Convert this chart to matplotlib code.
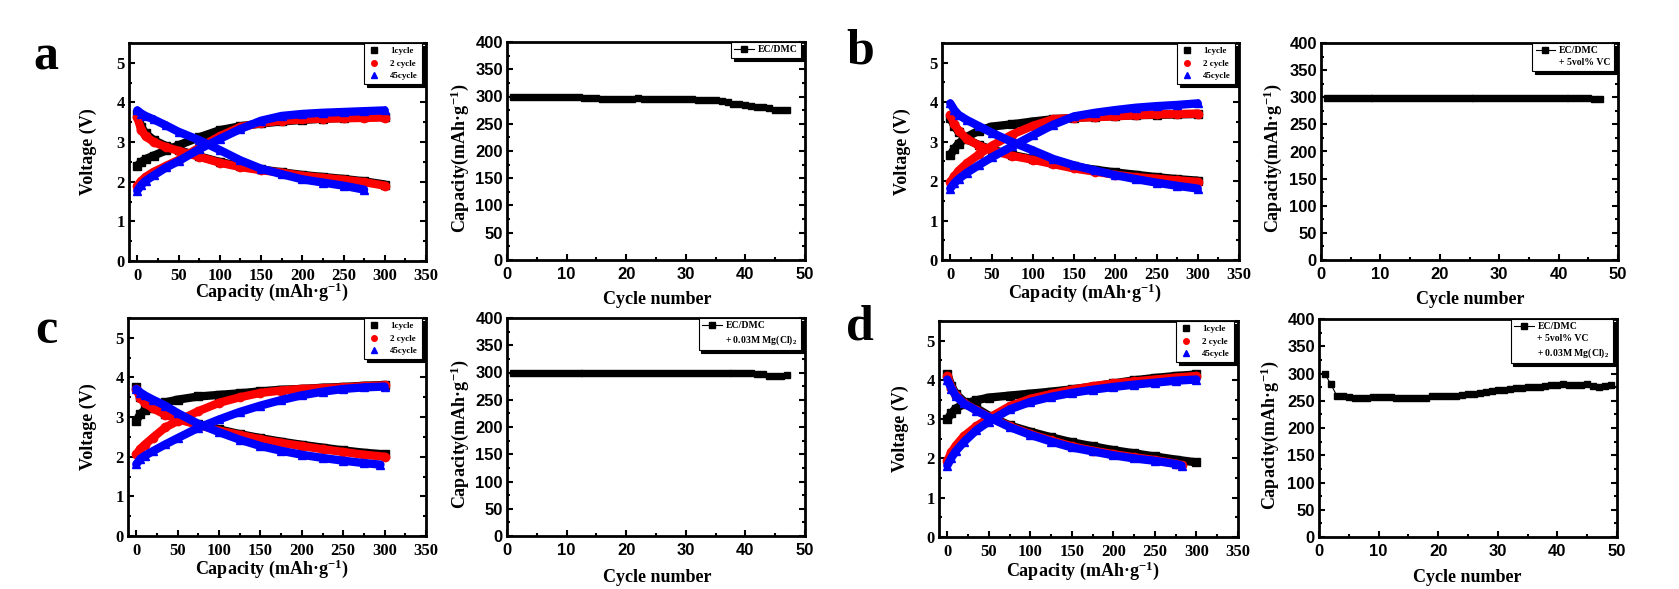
import matplotlib
matplotlib.use("Agg")
import matplotlib.pyplot as plt
from matplotlib.lines import Line2D
from matplotlib.ticker import MultipleLocator

plt.rcParams['font.family'] = 'Liberation Serif'
plt.rcParams['font.weight'] = 'bold'
plt.rcParams['mathtext.fontset'] = 'custom'
plt.rcParams['mathtext.rm'] = 'Liberation Serif:bold'
plt.rcParams['mathtext.it'] = 'Liberation Serif:bold'
plt.rcParams['mathtext.bf'] = 'Liberation Serif:bold'
plt.rcParams['axes.linewidth'] = 2

# ---- voltage profiles: capacity grid (mAh/g) and voltages (V)
q = [0, 5, 10, 20, 35, 50, 75, 100, 125, 150, 175, 200, 225, 250, 275, 300]
q_275 = [0, 5, 10, 20, 35, 50, 75, 100, 125, 150, 175, 200, 225, 250, 275]
q_282 = [0, 5, 10, 20, 35, 50, 75, 100, 125, 150, 175, 200, 225, 250, 275, 282]
q_295 = [0, 5, 10, 20, 35, 50, 75, 100, 125, 150, 175, 200, 225, 250, 275, 295]

# panel a : EC/DMC
a_c1_chg = [2.40, 2.50, 2.57, 2.66, 2.79, 2.92, 3.12, 3.30, 3.40, 3.47, 3.52, 3.56, 3.59, 3.61, 3.63, 3.64]
a_c1_dis = [3.70, 3.38, 3.22, 3.05, 2.90, 2.80, 2.64, 2.50, 2.39, 2.31, 2.24, 2.17, 2.12, 2.07, 2.01, 1.93]
a_c2_chg = [1.90, 2.02, 2.12, 2.25, 2.40, 2.55, 2.86, 3.15, 3.38, 3.48, 3.54, 3.57, 3.59, 3.60, 3.61, 3.62]
a_c2_dis = [3.63, 3.30, 3.15, 3.00, 2.87, 2.78, 2.63, 2.48, 2.37, 2.29, 2.23, 2.15, 2.10, 2.05, 1.99, 1.90]
a_c45_chg = [1.77, 1.92, 2.02, 2.16, 2.36, 2.52, 2.82, 3.08, 3.33, 3.54, 3.66, 3.71, 3.74, 3.76, 3.78, 3.80]
a_c45_dis = [3.80, 3.72, 3.66, 3.57, 3.42, 3.26, 3.05, 2.80, 2.54, 2.33, 2.19, 2.06, 1.98, 1.90, 1.80]

# panel b : EC/DMC + 5vol% VC
b_c1_chg = [2.66, 2.82, 2.95, 3.12, 3.28, 3.38, 3.44, 3.51, 3.57, 3.60, 3.63, 3.65, 3.67, 3.68, 3.69, 3.70]
b_c1_dis = [3.60, 3.40, 3.25, 3.06, 2.91, 2.80, 2.66, 2.56, 2.46, 2.37, 2.29, 2.22, 2.16, 2.10, 2.05, 2.01]
b_c2_chg = [1.98, 2.12, 2.26, 2.45, 2.68, 2.89, 3.18, 3.40, 3.57, 3.60, 3.62, 3.64, 3.67, 3.69, 3.70, 3.71]
b_c2_dis = [3.68, 3.45, 3.28, 3.07, 2.90, 2.78, 2.64, 2.54, 2.43, 2.32, 2.24, 2.16, 2.10, 2.06, 2.02, 1.98]
b_c45_chg = [1.81, 1.95, 2.05, 2.21, 2.41, 2.60, 2.88, 3.16, 3.43, 3.64, 3.73, 3.80, 3.86, 3.90, 3.93, 3.97]
b_c45_dis = [3.97, 3.80, 3.68, 3.55, 3.39, 3.23, 2.99, 2.78, 2.56, 2.40, 2.27, 2.15, 2.05, 1.96, 1.88, 1.81]

# panel c : EC/DMC + 0.03M Mg(Cl)2
c_c1_chg = [2.91, 3.08, 3.17, 3.28, 3.37, 3.44, 3.52, 3.56, 3.60, 3.65, 3.69, 3.71, 3.74, 3.76, 3.79, 3.81]
c_c1_dis = [3.75, 3.50, 3.38, 3.24, 3.08, 2.98, 2.82, 2.69, 2.57, 2.47, 2.38, 2.30, 2.23, 2.16, 2.10, 2.06]
c_c2_chg = [2.06, 2.20, 2.30, 2.48, 2.74, 2.90, 3.15, 3.36, 3.50, 3.61, 3.67, 3.71, 3.73, 3.75, 3.78, 3.80]
c_c2_dis = [3.70, 3.48, 3.36, 3.22, 3.06, 2.95, 2.80, 2.66, 2.55, 2.44, 2.35, 2.27, 2.19, 2.12, 2.05, 2.00]
c_c45_chg = [1.81, 1.95, 2.02, 2.14, 2.31, 2.47, 2.73, 2.94, 3.13, 3.29, 3.43, 3.55, 3.64, 3.71, 3.75, 3.77]
c_c45_dis = [3.71, 3.62, 3.55, 3.44, 3.29, 3.10, 2.83, 2.62, 2.43, 2.27, 2.15, 2.05, 1.97, 1.90, 1.84, 1.80]

# panel d : EC/DMC + 5vol% VC + 0.03M Mg(Cl)2
d_c1_chg = [3.00, 3.15, 3.27, 3.39, 3.48, 3.55, 3.60, 3.65, 3.70, 3.76, 3.83, 3.91, 3.99, 4.05, 4.10, 4.14]
d_c1_dis = [4.14, 3.85, 3.65, 3.45, 3.28, 3.09, 2.84, 2.68, 2.54, 2.41, 2.31, 2.21, 2.13, 2.05, 1.97, 1.90]
d_c2_chg = [1.94, 2.16, 2.32, 2.57, 2.82, 3.03, 3.33, 3.52, 3.64, 3.75, 3.84, 3.91, 3.96, 4.01, 4.06, 4.10]
d_c2_dis = [4.10, 3.80, 3.61, 3.41, 3.23, 3.06, 2.82, 2.62, 2.46, 2.31, 2.20, 2.11, 2.03, 1.96, 1.87, 1.83]
d_c45_chg = [1.82, 2.02, 2.18, 2.42, 2.72, 2.94, 3.25, 3.44, 3.57, 3.67, 3.75, 3.82, 3.88, 3.93, 3.98, 4.01]
d_c45_dis = [4.01, 3.78, 3.60, 3.40, 3.22, 3.05, 2.80, 2.60, 2.43, 2.28, 2.18, 2.08, 2.00, 1.94, 1.86, 1.82]

# ---- cycling performance (discharge capacity vs cycle number)
cyc_47 = list(range(1, 48))
cyc_49 = list(range(1, 50))
cap_a = [300, 300, 300, 300, 300, 300, 300, 300, 300, 300, 300, 300, 297, 297, 297, 295,
         295, 295, 295, 295, 295, 297, 295, 295, 295, 295, 295, 295, 295, 295, 295, 294,
         293, 293, 293, 291, 289, 287, 286, 284, 282, 281, 280, 278, 276, 275, 275]
cap_b = [299] * 45 + [297, 296]
cap_c = [299] * 41 + [297, 297, 294, 293, 293, 295]
cap_d = [299, 280, 259, 258, 256, 255, 255, 255, 256, 256, 256, 256, 255, 255, 255, 255,
         255, 255, 258, 258, 258, 258, 259, 261, 262, 263, 265, 266, 268, 269, 270, 272,
         273, 274, 275, 275, 276, 277, 278, 278, 280, 279, 278, 279, 280, 277, 275, 277, 279]

cycle_labels = ['1cycle', '2 cycle', '45cycle']
cycle_colors = ['black', 'red', 'blue']
cycle_markers = ['s', 'o', '^']

W, H = 1679, 589
fig = plt.figure(figsize=(W / 100, H / 100), dpi=100)


def px(x0, x1, y0, y1):
    # pixel box (from top-left) -> figure fraction rect
    return [x0 / W, 1 - y1 / H, (x1 - x0) / W, (y1 - y0) / H]


def ftext(x, y, s, **kw):
    fig.text(x / W, 1 - y / H, s, ha='center', va='center', **kw)


def style_ticks(ax, sans=False):
    ax.tick_params(which='both', direction='in', right=True, top=False, width=1.5)
    ax.tick_params(which='major', length=4, pad=3, labelsize=12)
    ax.tick_params(which='minor', length=2.5)
    ax.tick_params(axis='x', pad=5)
    if sans:
        ax.tick_params(labelfontfamily='Liberation Sans')


def voltage_panel(box, curves, legend_w):
    ax = fig.add_axes(px(*box))
    for i, (chg, dis, q_chg, q_dis) in enumerate(curves):
        for qs, vs in ((q_chg, chg), (q_dis, dis)):
            ax.plot(qs, vs, color=cycle_colors[i], lw=6, marker=cycle_markers[i],
                    ms=6, solid_capstyle='round', solid_joinstyle='round')
    ax.set_xlim(-10, 350)
    ax.set_ylim(0, 5.5)
    ax.xaxis.set_major_locator(MultipleLocator(50))
    ax.xaxis.set_minor_locator(MultipleLocator(25))
    ax.yaxis.set_major_locator(MultipleLocator(1))
    ax.yaxis.set_minor_locator(MultipleLocator(0.5))
    style_ticks(ax)
    handles = [Line2D([], [], ls='none', marker=m, color=c, ms=4)
               for m, c in zip(cycle_markers, cycle_colors)]
    ax.legend(handles, cycle_labels, loc='upper right',
              bbox_to_anchor=(1 - 4 / (box[1] - box[0]), 1.0), borderaxespad=0,
              fontsize=6.5, handlelength=1.2, handletextpad=1.2, labelspacing=0.45,
              borderpad=0.45, fancybox=False, framealpha=1, edgecolor='black',
              shadow={'color': 'black', 'alpha': 1})
    ax.get_legend().get_frame().set_linewidth(0.8)
    return ax


def cycling_panel(box, cycles, caps, labels):
    ax = fig.add_axes(px(*box))
    ax.plot(cycles, caps, color='black', lw=0.8, marker='s', ms=4.5)
    ax.set_xlim(0, 50)
    ax.set_ylim(0, 400)
    ax.xaxis.set_major_locator(MultipleLocator(10))
    ax.xaxis.set_minor_locator(MultipleLocator(5))
    ax.yaxis.set_major_locator(MultipleLocator(50))
    ax.yaxis.set_minor_locator(MultipleLocator(25))
    style_ticks(ax, sans=True)
    handles = [Line2D([], [], color='black', lw=0.8, marker='s', ms=4)]
    handles += [Line2D([], [], ls='none') for _ in labels[1:]]
    ax.legend(handles, labels, loc='upper right',
              bbox_to_anchor=(1 - 4 / (box[1] - box[0]), 1.0), borderaxespad=0,
              fontsize=7, handlelength=2.0, handletextpad=0.4, labelspacing=0.3,
              borderpad=0.35, fancybox=False, framealpha=1, edgecolor='black',
              shadow={'color': 'black', 'alpha': 1})
    ax.get_legend().get_frame().set_linewidth(0.8)
    return ax


# row 1
voltage_panel((129, 426, 43, 261),
              [(a_c1_chg, a_c1_dis, q, q), (a_c2_chg, a_c2_dis, q, q),
               (a_c45_chg, a_c45_dis, q, q_275)], 67)
cycling_panel((507, 805, 42, 260), cyc_47, cap_a, ['EC/DMC'])
voltage_panel((942, 1239, 43, 260),
              [(b_c1_chg, b_c1_dis, q, q), (b_c2_chg, b_c2_dis, q, q),
               (b_c45_chg, b_c45_dis, q, q)], 70)
cycling_panel((1321, 1618, 43, 260), cyc_47, cap_b, ['EC/DMC', '+ 5vol% VC'])

# row 2
voltage_panel((128, 426, 318, 536),
              [(c_c1_chg, c_c1_dis, q, q), (c_c2_chg, c_c2_dis, q, q),
               (c_c45_chg, c_c45_dis, q, q_295)], 67)
cycling_panel((507, 805, 318, 536), cyc_47, cap_c, ['EC/DMC', '+ 0.03M Mg(Cl)$_2$'])
voltage_panel((939, 1238, 321, 537),
              [(d_c1_chg, d_c1_dis, q, q), (d_c2_chg, d_c2_dis, q, q_282),
               (d_c45_chg, d_c45_dis, q, q_282)], 70)
cycling_panel((1319, 1617, 319, 537), cyc_49, cap_d,
              ['EC/DMC', '+ 5vol% VC', '+ 0.03M Mg(Cl)$_2$'])

# axis labels (placed in figure pixels)
vlab = dict(fontsize=13, fontweight='bold', rotation=90)
xlab = dict(fontsize=13, fontweight='bold')
for (x, y) in [(88, 152), (902, 152), (88, 427), (900, 429)]:
    ftext(x, y, 'Voltage (V)', **vlab)
for (x, y) in [(272, 292), (1085, 293), (272, 569), (1083, 571)]:
    ftext(x, y, 'Capacity (mAh·g$^{-1}$)', **xlab)
for (x, y) in [(460, 158), (1273, 158), (460, 434), (1270, 435)]:
    ftext(x, y, 'Capacity(mAh·g$^{-1}$)', **vlab)
for (x, y) in [(657, 300), (1470, 300), (657, 577), (1467, 578)]:
    ftext(x, y, 'Cycle number', **xlab)

# panel letters
for (x, y, s) in [(46, 57, 'a'), (860, 52, 'b'), (46, 331, 'c'), (860, 327, 'd')]:
    ftext(x, y, s, fontsize=36, fontweight='bold')

fig.savefig('out.png', dpi=100)
